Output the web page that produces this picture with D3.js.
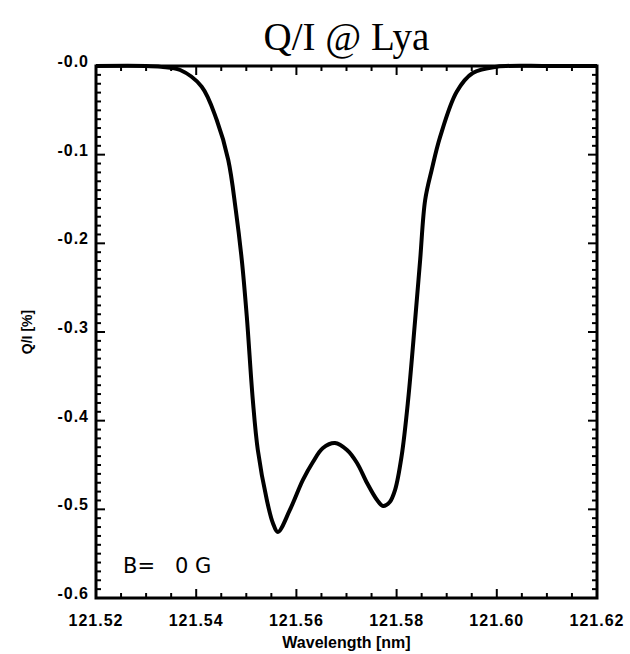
<!DOCTYPE html>
<html>
<head>
<meta charset="utf-8">
<script src="https://cdn.jsdelivr.net/npm/d3@7"></script>
<style>
    body { margin: 0; background: #fff; }
    svg { display: block; }
    .tick-label { font-family: "Liberation Sans", sans-serif; font-weight: bold; font-size: 16px; letter-spacing: 1px; fill: #000; }
</style>
</head>
<body>
<script>
// Q/I profile
const wavelengths = [121.5200, 121.5300, 121.5330, 121.5368, 121.5411, 121.5441, 121.5464, 121.5479,
                     121.5491, 121.5501, 121.5513, 121.5523, 121.5541, 121.5553, 121.5563, 121.5587,
                     121.5613, 121.5633, 121.5653, 121.5677, 121.5701, 121.5721, 121.5741, 121.5761,
                     121.5773, 121.5786, 121.5797, 121.5810, 121.5823, 121.5837, 121.5847, 121.5857,
                     121.5870, 121.5887, 121.5920, 121.5952, 121.6000, 121.6100, 121.6200];
const qiValues = [0.0, 0.0, -0.001, -0.0045, -0.0233, -0.0609, -0.1060, -0.1624,
                  -0.2188, -0.2827, -0.3767, -0.4331, -0.4895, -0.5154, -0.5256, -0.5007,
                  -0.4669, -0.4466, -0.4308, -0.4252, -0.4331, -0.4477, -0.4703, -0.4895,
                  -0.4962, -0.4920, -0.4780, -0.4400, -0.3767, -0.2865, -0.2188, -0.1511,
                  -0.1173, -0.0797, -0.0290, -0.0079, -0.0008, 0.0, 0.0];

const xTicks = [121.52, 121.54, 121.56, 121.58, 121.60, 121.62];
const yTicks = [0, -0.1, -0.2, -0.3, -0.4, -0.5, -0.6];

const data = wavelengths.map((w, i) => { return {w: w, v: qiValues[i]}; });

const W = 630, H = 654;
const margin = {left: 96, top: 66, right: 33, bottom: 56};
const width = W - margin.left - margin.right;
const height = H - margin.top - margin.bottom;

const x = d3.scaleLinear().domain([121.52, 121.62]).range([0, width]);
const y = d3.scaleLinear().domain([-0.6, 0]).range([height, 0]);

const svg = d3.select("body").append("svg")
    .attr('width', W)
    .attr('height', H);

// Title
svg.append("text")
    .attr('x', margin.left + width / 2)
    .attr('y', 50)
    .attr('text-anchor', 'middle')
    .style('font-family', '"Liberation Serif", serif')
    .style('font-size', '39px')
    .text("Q/I @ Lya");

const g = svg.append("g")
    .attr('transform', `translate(${margin.left}, ${margin.top})`);

// minor / major ticks, all pointing inward on all four sides
const xMinor = d3.range(0, 21).map((i) => { return 121.52 + i * 0.005; });
const yMinor = d3.range(0, 61).map((i) => { return -i * 0.01; });

const tickG = g.append("g").attr('stroke', '#000').attr('stroke-width', 2);
xMinor.forEach((t, i) => {
    const len = (i % 4 === 0) ? 9 : 5;
    tickG.append("line").attr('x1', x(t)).attr('x2', x(t)).attr('y1', height).attr('y2', height - len);
    tickG.append("line").attr('x1', x(t)).attr('x2', x(t)).attr('y1', 0).attr('y2', len);
});
yMinor.forEach((t, i) => {
    const len = (i % 10 === 0) ? 9 : 5;
    tickG.append("line").attr('y1', y(t)).attr('y2', y(t)).attr('x1', 0).attr('x2', len);
    tickG.append("line").attr('y1', y(t)).attr('y2', y(t)).attr('x1', width).attr('x2', width - len);
});

// Frame
g.append("rect")
    .attr('x', 0).attr('y', 0)
    .attr('width', width).attr('height', height)
    .attr('fill', 'none')
    .attr('stroke', '#000')
    .attr('stroke-width', 3);

// X tick labels
g.selectAll(".xlab").data(xTicks).enter().append("text")
    .attr('class', 'tick-label')
    .attr('x', (d) => { return x(d); })
    .attr('y', height + 28)
    .attr('text-anchor', 'middle')
    .text((d) => { return d.toFixed(2); });

// Y tick labels
g.selectAll(".ylab").data(yTicks).enter().append("text")
    .attr('class', 'tick-label')
    .attr('x', -7)
    .attr('y', (d) => { return y(d) + 1; })
    .attr('text-anchor', 'end')
    .text((d) => { return "-" + Math.abs(d).toFixed(1); });

// Axis titles
g.append("text")
    .attr('x', width / 2)
    .attr('y', height + 50)
    .attr('text-anchor', 'middle')
    .style('font-family', '"Liberation Sans", sans-serif')
    .style('font-weight', 'bold')
    .style('font-size', '16px')
    .text("Wavelength [nm]");

g.append("text")
    .attr('transform', `translate(${-64}, ${height / 2}) rotate(-90)`)
    .attr('text-anchor', 'middle')
    .style('font-family', '"Liberation Sans", sans-serif')
    .style('font-weight', 'bold')
    .style('font-size', '14px')
    .text("Q/I [%]");

// Curve
const line = d3.line()
    .x((d) => { return x(d.w); })
    .y((d) => { return y(d.v); })
    .curve(d3.curveCatmullRom.alpha(0.5));

g.append("path")
    .datum(data)
    .attr('d', line)
    .attr('fill', 'none')
    .attr('stroke', '#000')
    .attr('stroke-width', 4)
    .attr('stroke-linejoin', 'round');

// Field annotation
g.append("text")
    .attr('x', 27)
    .attr('y', 507)
    .style('font-family', '"DejaVu Sans", sans-serif')
    .style('font-size', '21px')
    .style('white-space', 'pre')
    .text("B=   0 G");
</script>
</body>
</html>
